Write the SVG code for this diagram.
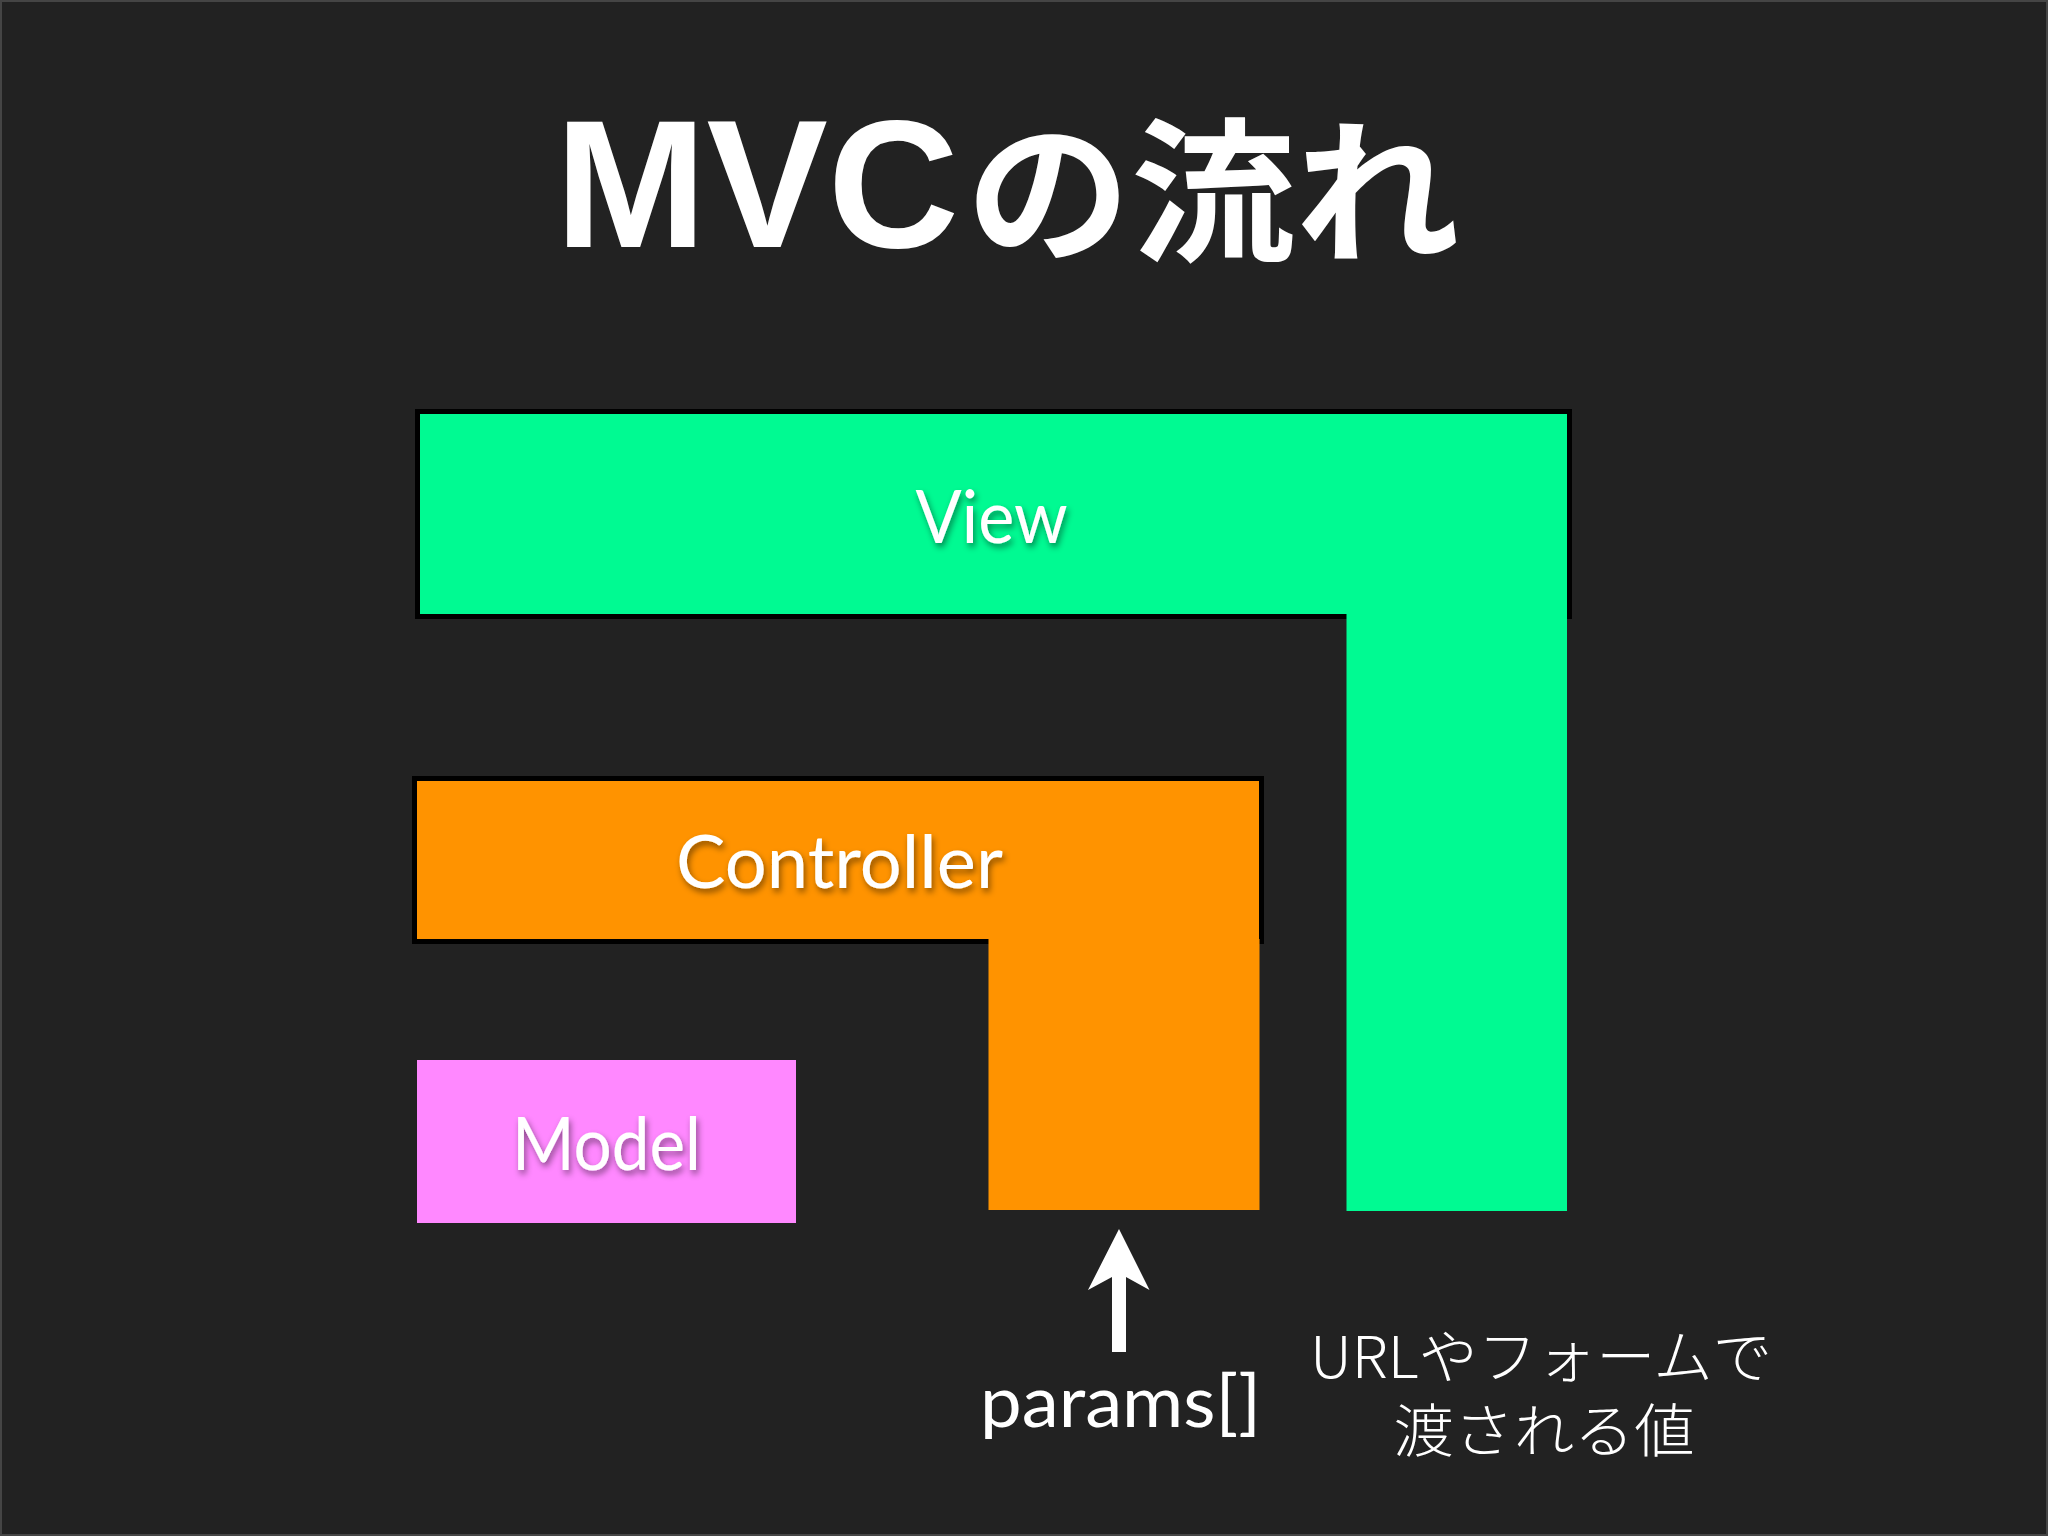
<svg xmlns="http://www.w3.org/2000/svg" width="2048" height="1536" viewBox="0 0 2048 1536">
  <defs>
    <style>
      .label { font-family: Lato, "Open Sans", "Liberation Sans", sans-serif; fill: #ffffff; font-size: 74px; text-anchor: middle; }
      .shadow { filter: url(#ds); }
      .jp { font-family: "Noto Sans CJK JP", "Noto Sans", sans-serif; fill: #ffffff; font-weight: 300; font-size: 58px; text-anchor: middle; }
      .bar { stroke: #000000; stroke-width: 5; }
      .view { fill: #00FA92; }
      .ctrl { fill: #FF9300; }
      .model { fill: #FF88FF; }
    </style>
    <filter id="ds" x="-20%" y="-30%" width="140%" height="170%">
      <feDropShadow dx="2" dy="4" stdDeviation="3" flood-color="#000000" flood-opacity="0.45"/>
    </filter>
  </defs>

  <rect x="0" y="0" width="2048" height="1536" fill="#222222"/>
  <rect x="1" y="1" width="2046" height="1534" fill="none" stroke="#454545" stroke-width="2"/>

  <g id="title">
    <text y="247" fill="#ffffff" font-weight="700">
      <tspan x="555" font-family="'Liberation Sans', Arial, sans-serif" font-size="181" textLength="404" lengthAdjust="spacingAndGlyphs">MVC</tspan><tspan x="966" y="250" font-family="'Noto Sans CJK JP', sans-serif" font-size="156" textLength="494" lengthAdjust="spacingAndGlyphs">の流れ</tspan>
    </text>
  </g>

  <g id="view">
    <rect class="bar view" x="417.5" y="411.5" width="1152" height="205"/>
    <rect class="view" x="1346.5" y="614" width="220.5" height="597"/>
    <text class="label shadow" x="991.6" y="543" textLength="152" lengthAdjust="spacingAndGlyphs">View</text>
  </g>

  <g id="controller">
    <rect class="bar ctrl" x="414.5" y="778.5" width="847" height="163"/>
    <rect class="ctrl" x="988.5" y="939" width="271" height="271"/>
    <text class="label shadow" x="839.5" y="888" textLength="327" lengthAdjust="spacingAndGlyphs">Controller</text>
  </g>

  <g id="model">
    <rect class="model" x="417" y="1060" width="379" height="163"/>
    <text class="label shadow" x="606.5" y="1170" textLength="189" lengthAdjust="spacingAndGlyphs">Model</text>
  </g>

  <g id="connectors">
    <polygon fill="#ffffff" points="1119,1229 1149.5,1290 1126,1277 1126,1352 1112,1352 1112,1277 1088,1290"/>
  </g>

  <g id="params">
    <text x="980" y="1427" font-family="Lato, 'Open Sans', 'Liberation Sans', sans-serif" font-size="72" fill="#ffffff" textLength="281" lengthAdjust="spacingAndGlyphs">params[]</text>
  </g>

  <g id="note">
    <text class="jp" x="1541" y="1378" textLength="462" lengthAdjust="spacingAndGlyphs">URLやフォームで</text>
    <text class="jp" x="1544" y="1452" textLength="301" lengthAdjust="spacingAndGlyphs">渡される値</text>
  </g>
</svg>
